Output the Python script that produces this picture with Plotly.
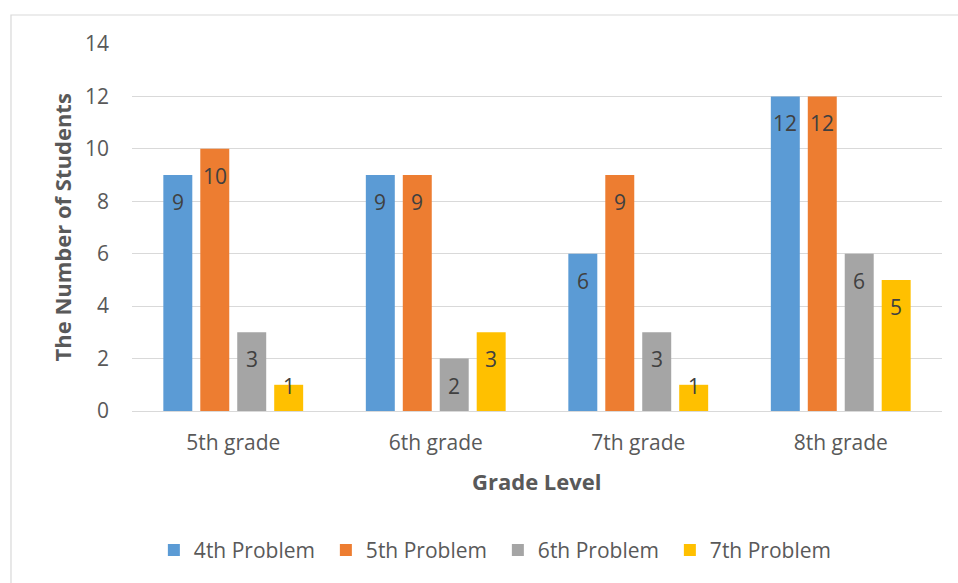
import plotly.graph_objects as go

categories = ["5th grade", "6th grade", "7th grade", "8th grade"]
series_names = ["4th Problem", "5th Problem", "6th Problem", "7th Problem"]
problem4 = [9, 9, 6, 12]
problem5 = [10, 9, 9, 12]
problem6 = [3, 2, 3, 6]
problem7 = [1, 3, 1, 5]
y_ticks = [0, 2, 4, 6, 8, 10, 12, 14]

colors = ["#5B9BD5", "#ED7D31", "#A5A5A5", "#FFC000"]
all_values = [problem4, problem5, problem6, problem7]
FONT = "Open Sans"

fig = go.Figure()
for name, vals, col in zip(series_names, all_values, colors):
    fig.add_trace(go.Bar(x=categories, y=vals, name=name,
                         marker=dict(color=col, line=dict(width=0))))

# data labels (inside end)
annotations = []
for i, vals in enumerate(all_values):
    for cat, v in zip(categories, vals):
        annotations.append(dict(
            x=cat, y=max(v - 1.03, 0.96), xref="x", yref="y",
            text=str(v), showarrow=False, xanchor="center", yanchor="middle",
            xshift=(i - 1.5) * 37,
            font=dict(family=FONT, size=21, color="#404040")))

# axis titles
annotations.append(dict(x=0.5, y=0, xref="paper", yref="paper", text="<b>Grade Level</b>",
                        showarrow=False, xanchor="center", yanchor="middle", yshift=-70,
                        font=dict(family=FONT, size=22, color="#595959")))
annotations.append(dict(x=0, y=0.5, xref="paper", yref="paper", text="<b>The Number of Students</b>",
                        showarrow=False, xanchor="center", yanchor="middle", xshift=-71,
                        textangle=-90, font=dict(family=FONT, size=22, color="#595959")))

fig.update_layout(
    width=958, height=583,
    margin=dict(l=132, r=16, t=44, b=172),
    paper_bgcolor="white", plot_bgcolor="white",
    barmode="group", bargap=0.27, bargroupgap=0.216,
    font=dict(family=FONT, size=21, color="#595959"),
    showlegend=True,
    legend=dict(orientation="h", x=0.027, xanchor="left", y=-0.38, yanchor="middle",
                font=dict(family=FONT, size=21, color="#595959"),
                traceorder="normal", itemwidth=30, entrywidth=127, entrywidthmode="pixels"),
    annotations=annotations,
    shapes=[dict(type="rect", xref="paper", yref="paper",
                 x0=-0.1494, x1=1.1, y0=-0.6, y1=1.079,
                 line=dict(color="#D9D9D9", width=1.2), fillcolor="rgba(0,0,0,0)", layer="below")],
)
fig.update_xaxes(showgrid=False, showline=True, linecolor="#D9D9D9", linewidth=1.2,
                 ticks="", tickfont=dict(family=FONT, size=21, color="#595959"),
                 ticklabelstandoff=13)
fig.update_yaxes(range=[0, 14], tickvals=y_ticks, showgrid=True, gridcolor="#D9D9D9",
                 gridwidth=1.2, zeroline=False, showline=False, ticks="",
                 tickfont=dict(family=FONT, size=21, color="#595959"),
                 ticklabelstandoff=22)

fig.write_html("out.html")
